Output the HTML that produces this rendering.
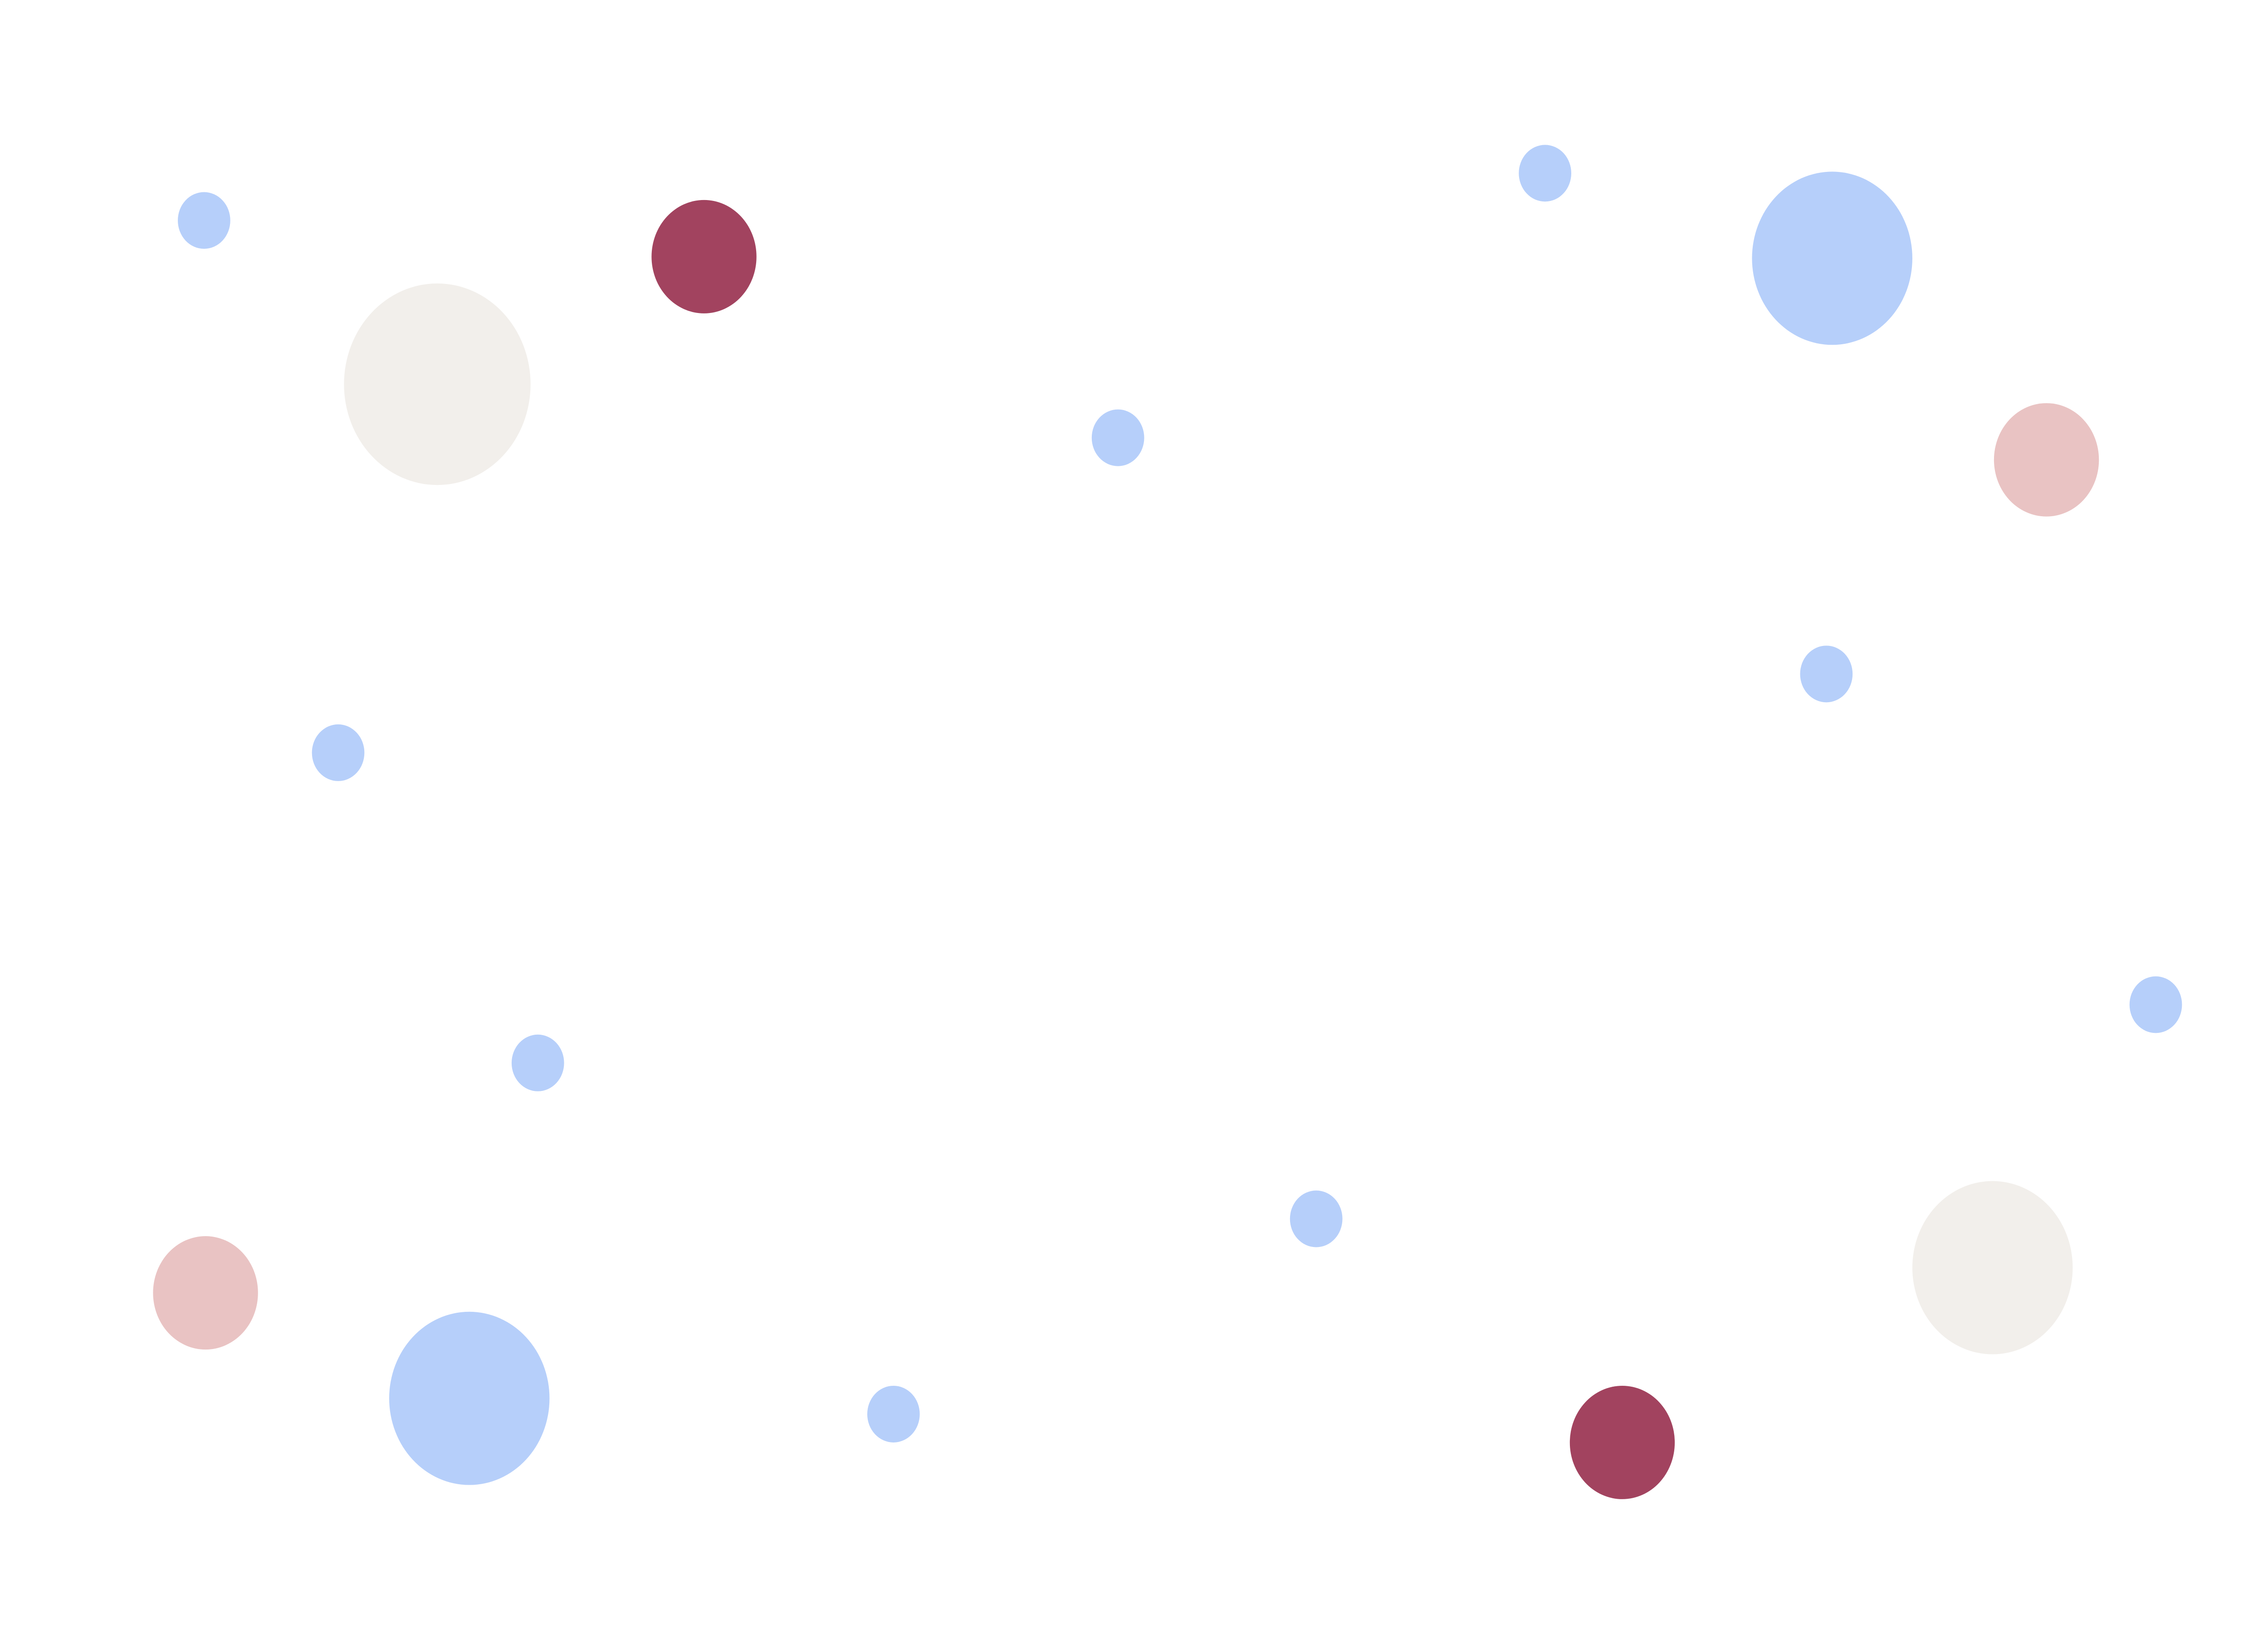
<!DOCTYPE html>
<html><head><meta charset="utf-8"><style>
html,body{margin:0;padding:0;background:#fff;width:100%;height:100%;overflow:hidden;}
svg{display:block;position:fixed;left:0;top:0;width:100vw;height:100vh;}
</style></head><body>
<svg viewBox="0 0 1556 1037" preserveAspectRatio="none" xmlns="http://www.w3.org/2000/svg">
<rect width="1556" height="1037" fill="#fff"/>
<g>
<circle cx="140" cy="140" r="18" fill="#b6cffa"/>
<circle cx="483" cy="163" r="36" fill="#a2435f"/>
<circle cx="300" cy="244" r="64" fill="#f2efeb"/>
<circle cx="767" cy="278" r="18" fill="#b6cffa"/>
<circle cx="1060" cy="110" r="18" fill="#b6cffa"/>
<circle cx="1257" cy="164" r="55" fill="#b6cffa"/>
<circle cx="1404" cy="292" r="36" fill="#e9c3c3"/>
<circle cx="1253" cy="428" r="18" fill="#b6cffa"/>
<circle cx="232" cy="478" r="18" fill="#b6cffa"/>
<circle cx="1479" cy="638" r="18" fill="#b6cffa"/>
<circle cx="369" cy="675" r="18" fill="#b6cffa"/>
<circle cx="903" cy="774" r="18" fill="#b6cffa"/>
<circle cx="141" cy="821" r="36" fill="#e9c3c3"/>
<circle cx="322" cy="888" r="55" fill="#b6cffa"/>
<circle cx="613" cy="898" r="18" fill="#b6cffa"/>
<circle cx="1113" cy="916" r="36" fill="#a2435f"/>
<circle cx="1367" cy="805" r="55" fill="#f2efeb"/>
</g>
</svg>
</body></html>
